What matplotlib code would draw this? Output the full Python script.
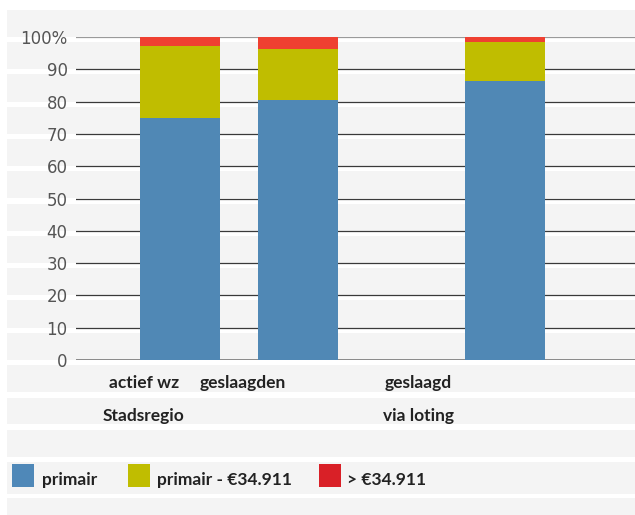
import matplotlib
matplotlib.use("Agg")
import matplotlib.pyplot as plt
from matplotlib.patches import Rectangle
import numpy as np

# Data
categories = ["actief wz\nStadsregio", "geslaagden", "geslaagd\nvia loting"]
bar_pos = [0.0, 1.0, 2.75]
label_pos = [-0.305, 0.534, 2.017]
primair = [74.8, 80.6, 86.4]
primair_34911 = [22.5, 15.7, 12.2]
boven_34911 = [2.7, 3.7, 1.4]
series_names = ["primair", "primair - €34.911", "> €34.911"]
yticks = [0, 10, 20, 30, 40, 50, 60, 70, 80, 90, 100]
ytick_labels = ["0", "10", "20", "30", "40", "50", "60", "70", "80", "90", "100%"]

W, H = 635, 515
fig = plt.figure(figsize=(W / 100, H / 100), dpi=100)
fig.patch.set_facecolor("white")

BG = "#f4f4f4"

def band(y0, y1, x0=7, x1=W):
    fig.add_artist(Rectangle((x0 / W, 1 - y1 / H), (x1 - x0) / W, (y1 - y0) / H,
                             transform=fig.transFigure, facecolor=BG,
                             edgecolor="none", zorder=-10))

y_top, y_zero = 37.0, 360.0
step = (y_zero - y_top) / 10
band(10, y_top)
for k in range(1, 11):
    band(y_top + step * (k - 1) + 5, y_top + step * k)
band(365, 392)
band(398, 424)
band(430, 457)
band(462, 494)
band(498, 515)

ax = fig.add_axes([76 / W, 1 - y_zero / H, (W - 76) / W, (y_zero - y_top) / H])
ax.set_facecolor("none")
ax.set_ylim(0, 100)
ax.set_xlim(-(180 - 76) / 118, (635 - 180) / 118)
for s in ax.spines.values():
    s.set_visible(False)

for v in yticks[1:-1]:
    ax.axhline(v, color="#3a3a3a", lw=0.9, zorder=1)
ax.axhline(100, color="#9a9a9a", lw=1.6, zorder=1)
ax.axhline(0, color="#8a8a8a", lw=1.4, zorder=1)

ax.set_yticks(yticks)
ax.set_yticklabels(ytick_labels, fontsize=12, color="#555555", family="DejaVu Sans")
ax.tick_params(axis="y", length=0, pad=6)
ax.set_xticks([])

width = 80 / 118
c_blue, c_yel, c_red = "#5088b5", "#c0bd00", "#ef4031"
p = np.array(primair)
y2 = np.array(primair_34911)
r = np.array(boven_34911)
ax.bar(bar_pos, p, width=width, color=c_blue, zorder=2)
ax.bar(bar_pos, y2, width=width, bottom=p, color=c_yel, zorder=2)
ax.bar(bar_pos, r, width=width, bottom=p + y2, color=c_red, zorder=2)

lab_font = dict(family="Lato", fontweight="bold", fontsize=12.5, color="#222222")
row_y = [383, 416]
for lp, cat in zip(label_pos, categories):
    for i, line in enumerate(cat.split("\n")):
        xfig = ax.transData.transform((lp, 0))[0] / W
        fig.text(xfig, 1 - row_y[i] / H, line, ha="center", va="center", **lab_font)

# Legend
leg_items = [(12, 42, "#4f88b8"), (128, 157, c_yel), (319, 347, "#d92027")]
for (sx, tx, col), name in zip(leg_items, series_names):
    fig.add_artist(Rectangle((sx / W, 1 - 487 / H), 22 / W, 23 / H,
                             transform=fig.transFigure, facecolor=col,
                             edgecolor="none"))
    fig.text(tx / W, 1 - 480 / H, name, ha="left", va="center", **lab_font)

fig.savefig("out.png", dpi=100, facecolor="white")
